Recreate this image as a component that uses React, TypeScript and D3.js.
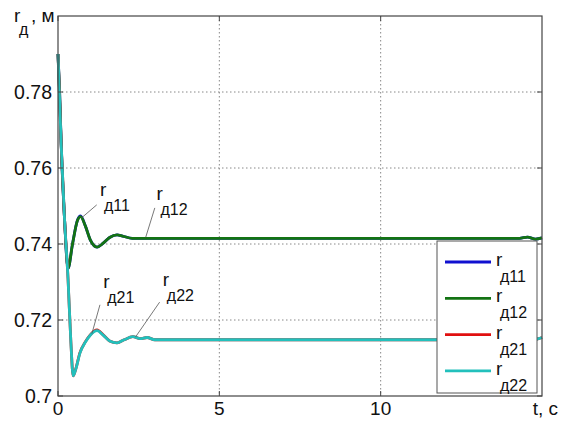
import React, { useEffect, useRef } from 'react';
import * as d3 from 'd3';

// time, s
const tGroup1 = [0, 0.05, 0.1, 0.2, 0.31, 0.45, 0.6, 0.7, 0.85, 1.0, 1.21, 1.4, 1.6, 1.83, 2.0, 2.3, 3, 6, 10, 14.3, 14.55, 14.8, 15];
const r11 = [0.790, 0.780, 0.766, 0.747, 0.7336, 0.7400, 0.7462, 0.7474, 0.7447, 0.7411, 0.7392, 0.7402, 0.7417, 0.7424, 0.7421, 0.7415, 0.7415, 0.7415, 0.7415, 0.7415, 0.7418, 0.7413, 0.7416];
const r12 = [0.790, 0.780, 0.766, 0.747, 0.7336, 0.7400, 0.7461, 0.7472, 0.7447, 0.7411, 0.7392, 0.7402, 0.7417, 0.7424, 0.7421, 0.7415, 0.7415, 0.7415, 0.7415, 0.7415, 0.7418, 0.7413, 0.7416];

const tGroup2 = [0, 0.1, 0.2, 0.31, 0.4, 0.47, 0.55, 0.68, 0.85, 1.0, 1.21, 1.4, 1.6, 1.83, 2.05, 2.32, 2.55, 2.76, 3.0, 6, 10, 14.6, 14.85, 15];
const r21 = [0.790, 0.766, 0.747, 0.731, 0.714, 0.7053, 0.7071, 0.7114, 0.7143, 0.7161, 0.7174, 0.7161, 0.7145, 0.7140, 0.7148, 0.7156, 0.7151, 0.7154, 0.7148, 0.7148, 0.7148, 0.7148, 0.7150, 0.7154];
const r22 = [0.790, 0.766, 0.747, 0.731, 0.714, 0.7053, 0.7070, 0.7113, 0.7142, 0.7160, 0.7172, 0.7160, 0.7145, 0.7140, 0.7148, 0.7156, 0.7151, 0.7154, 0.7148, 0.7148, 0.7148, 0.7148, 0.7150, 0.7154];

const xTicks = [0, 5, 10];
const yTicks = [0.7, 0.72, 0.74, 0.76, 0.78];

const seriesNames = ['д11', 'д12', 'д21', 'д22'];
const seriesColors = ['#1010d0', '#137313', '#e01010', '#22c0bc'];

// label text position (t, r) and leader line (t, r)
const notes = [
  { sub: 'д11', tx: 1.3, ty: 0.7527, lx1: 1.2, ly1: 0.7503, lx2: 0.72, ly2: 0.7468 },
  { sub: 'д12', tx: 3.05, ty: 0.7516, lx1: 3.0, ly1: 0.7495, lx2: 2.72, ly2: 0.7418 },
  { sub: 'д21', tx: 1.4, ty: 0.7283, lx1: 1.3, ly1: 0.7240, lx2: 1.05, ly2: 0.7164 },
  { sub: 'д22', tx: 3.25, ty: 0.7290, lx1: 3.15, ly1: 0.7247, lx2: 2.4, ly2: 0.7155 }
];

const App = () => {
  const ref = useRef<SVGSVGElement>(null);

  useEffect(() => {
    const w = 562, h = 421;
    const left = 58, right = 542, top = 16, bottom = 396;
    const font = '"Liberation Sans", Arial, sans-serif';

    const svg = d3.select(ref.current);
    svg.selectAll('*').remove();

    const x = d3.scaleLinear().domain([0, 15]).range([left, right]);
    const y = d3.scaleLinear().domain([0.7, 0.8]).range([bottom, top]);

    svg.append('rect').attr('width', w).attr('height', h).attr('fill', '#fff');

    // grid
    svg.selectAll('.gx').data(xTicks.slice(1)).enter().append('line')
      .attr('x1', d => x(d)).attr('x2', d => x(d))
      .attr('y1', top).attr('y2', bottom)
      .attr('stroke', '#888').attr('stroke-dasharray', '1.5,2.5');
    svg.selectAll('.gy').data(yTicks.slice(1)).enter().append('line')
      .attr('y1', d => y(d)).attr('y2', d => y(d))
      .attr('x1', left).attr('x2', right)
      .attr('stroke', '#888').attr('stroke-dasharray', '1.5,2.5');

    // curves
    const lineFunc = d3.line<[number, number]>()
      .x(d => x(d[0]))
      .y(d => y(d[1]))
      .curve(d3.curveMonotoneX);

    const series = [
      { t: tGroup1, v: r11 },
      { t: tGroup1, v: r12 },
      { t: tGroup2, v: r21 },
      { t: tGroup2, v: r22 }
    ];
    series.forEach((s, i) => {
      const pts = s.t.map((t, j) => [t, s.v[j]] as [number, number]);
      svg.append('path')
        .attr('d', lineFunc(pts))
        .attr('fill', 'none')
        .attr('stroke', seriesColors[i])
        .attr('stroke-width', 2.8)
        .attr('stroke-linejoin', 'round');
    });

    // frame
    svg.append('rect')
      .attr('x', left).attr('y', top)
      .attr('width', right - left).attr('height', bottom - top)
      .attr('fill', 'none').attr('stroke', '#444').attr('stroke-width', 1.2);

    // ticks inward
    xTicks.forEach(d => {
      svg.append('line').attr('x1', x(d)).attr('x2', x(d)).attr('y1', bottom).attr('y2', bottom - 5).attr('stroke', '#444');
      svg.append('line').attr('x1', x(d)).attr('x2', x(d)).attr('y1', top).attr('y2', top + 5).attr('stroke', '#444');
    });
    yTicks.forEach(d => {
      svg.append('line').attr('x1', left).attr('x2', left + 5).attr('y1', y(d)).attr('y2', y(d)).attr('stroke', '#444');
      svg.append('line').attr('x1', right).attr('x2', right - 5).attr('y1', y(d)).attr('y2', y(d)).attr('stroke', '#444');
    });

    // tick labels
    svg.selectAll('.yl').data(yTicks).enter().append('text')
      .attr('x', left - 6).attr('y', d => y(d) + 7)
      .attr('text-anchor', 'end')
      .attr('font-family', font).attr('font-size', 19.5).attr('fill', '#111')
      .text(d => String(d));
    svg.selectAll('.xl').data(xTicks).enter().append('text')
      .attr('x', d => x(d)).attr('y', 415)
      .attr('text-anchor', 'middle')
      .attr('font-family', font).attr('font-size', 19).attr('fill', '#111')
      .text(d => String(d));

    svg.append('text').attr('x', 558).attr('y', 415).attr('text-anchor', 'end')
      .attr('font-family', font).attr('font-size', 19).attr('fill', '#111')
      .text('t, с');

    // y axis label
    const yl = svg.append('g').attr('font-family', font).attr('fill', '#111');
    yl.append('text').attr('x', 14).attr('y', 22).attr('font-size', 19).text('r');
    yl.append('text').attr('x', 19).attr('y', 35).attr('font-size', 16).text('д');
    yl.append('text').attr('x', 31).attr('y', 22).attr('font-size', 19).text(', м');

    // annotations
    notes.forEach(n => {
      svg.append('line')
        .attr('x1', x(n.lx1)).attr('y1', y(n.ly1))
        .attr('x2', x(n.lx2)).attr('y2', y(n.ly2))
        .attr('stroke', '#555').attr('stroke-width', 0.8);
      svg.append('text').attr('x', x(n.tx)).attr('y', y(n.ty))
        .attr('font-family', font).attr('font-size', 19).attr('fill', '#111').text('r');
      svg.append('text').attr('x', x(n.tx) + 4).attr('y', y(n.ty) + 15)
        .attr('font-family', font).attr('font-size', 16).attr('fill', '#111').text(n.sub);
    });

    // legend
    const lg = svg.append('g');
    lg.append('rect')
      .attr('x', 437).attr('y', 241).attr('width', 100).attr('height', 152)
      .attr('fill', '#fff').attr('stroke', '#555').attr('stroke-width', 1);
    seriesNames.forEach((name, i) => {
      const yy = 262 + i * 36.3;
      lg.append('line').attr('x1', 445).attr('x2', 491).attr('y1', yy).attr('y2', yy)
        .attr('stroke', seriesColors[i]).attr('stroke-width', 2.8);
      lg.append('text').attr('x', 496).attr('y', yy + 4)
        .attr('font-family', font).attr('font-size', 19).attr('fill', '#111').text('r');
      lg.append('text').attr('x', 500).attr('y', yy + 20)
        .attr('font-family', font).attr('font-size', 16).attr('fill', '#111').text(name);
    });
  }, []);

  return (
    <svg ref={ref} width={562} height={421}
      style={{ position: 'fixed', left: 0, top: 0, display: 'block' }} />
  );
};

export default App;
